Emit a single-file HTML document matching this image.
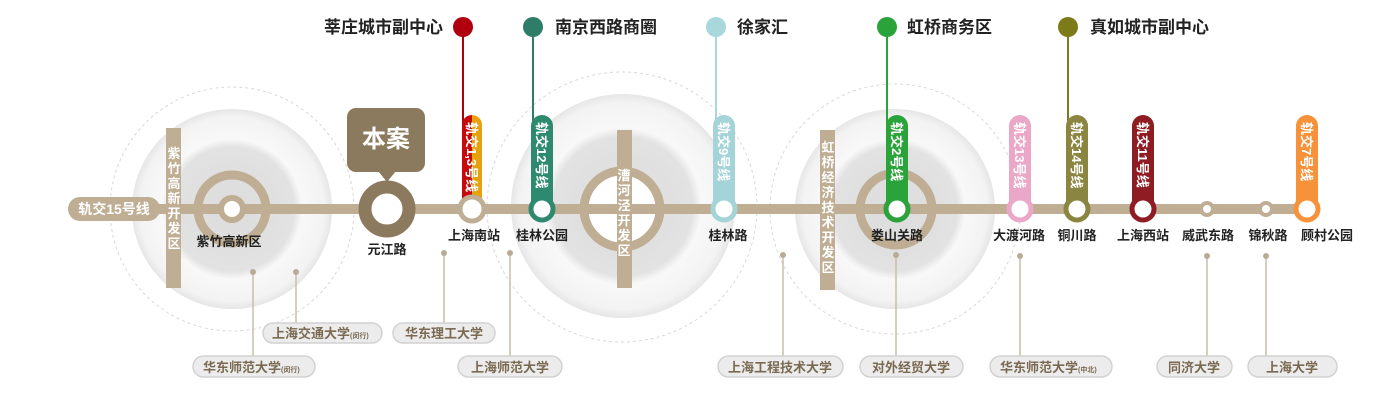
<!DOCTYPE html>
<html><head><meta charset="utf-8"><style>
html,body{margin:0;padding:0;background:#fff;width:1400px;height:418px;overflow:hidden}
text{font-family:"Liberation Sans","Noto Sans CJK SC",sans-serif;font-weight:bold}
</style></head><body>
<svg width="1400" height="418" viewBox="0 0 1400 418" xmlns="http://www.w3.org/2000/svg">
<defs>
<radialGradient id="g1" cx="50%" cy="50%" r="50%">
<stop offset="0" stop-color="#dcdcdc"/><stop offset="0.62" stop-color="#e2e2e2"/><stop offset="0.7" stop-color="#f8f8f8"/><stop offset="0.92" stop-color="#f3f3f3"/><stop offset="1" stop-color="#e6e6e6"/>
</radialGradient>
</defs>
<g fill="none" stroke="#d8d8d8" stroke-width="1" stroke-dasharray="3,3">
<circle cx="232" cy="209" r="122"/><circle cx="622" cy="207" r="135"/><circle cx="895" cy="209" r="125"/>
</g>
<circle cx="232" cy="209" r="100" fill="url(#g1)"/>
<circle cx="623" cy="206" r="112" fill="url(#g1)"/>
<circle cx="895" cy="209" r="100" fill="url(#g1)"/>
<circle cx="622" cy="209" r="38" fill="#fff"/>
<rect x="150" y="204" width="1157" height="10" fill="#bfae93"/>
<rect x="68" y="197" width="92" height="24" rx="12" fill="#bfae93"/>
<text x="114" y="214" font-size="14" fill="#fff" text-anchor="middle">轨交15号线</text>
<rect x="166" y="128" width="15" height="160" fill="#bfae93"/>
<rect x="617" y="130" width="15" height="158" fill="#bfae93"/>
<rect x="820" y="130" width="15" height="160" fill="#bfae93"/>
<g fill="none" stroke="#bfae93" stroke-width="9">
<circle cx="232" cy="209" r="34"/><circle cx="622" cy="209" r="38"/><circle cx="896" cy="209" r="36"/>
</g>
<g font-size="13" fill="#fff" text-anchor="middle">
<text x="174" y="158">紫</text><text x="174" y="173">竹</text><text x="174" y="188">高</text><text x="174" y="203">新</text><text x="174" y="218">开</text><text x="174" y="233">发</text><text x="174" y="248">区</text>
<text x="624" y="180">漕</text><text x="624" y="195">河</text><text x="624" y="210">泾</text><text x="624" y="225">开</text><text x="624" y="240">发</text><text x="624" y="255">区</text>
<text x="828" y="152">虹</text><text x="828" y="167">桥</text><text x="828" y="182">经</text><text x="828" y="197">济</text><text x="828" y="212">技</text><text x="828" y="227">术</text><text x="828" y="242">开</text><text x="828" y="257">发</text><text x="828" y="272">区</text>
</g>
<circle cx="232" cy="209" r="11" fill="#fff" stroke="#bfae93" stroke-width="6"/>
<rect x="347" y="108" width="78" height="64" rx="9" fill="#8c7a5e"/>
<polygon points="378,171 396,171 387,182" fill="#8c7a5e"/>
<text x="386" y="147" font-size="24" fill="#fff" text-anchor="middle">本案</text>
<circle cx="387" cy="209" r="22" fill="#fff" stroke="#8c7a5e" stroke-width="13"/>
<g font-size="17" fill="#222">
<text x="443" y="33" text-anchor="end">莘庄城市副中心</text>
<text x="555" y="33">南京西路商圈</text>
<text x="737" y="33">徐家汇</text>
<text x="907" y="33">虹桥商务区</text>
<text x="1090" y="33">真如城市副中心</text>
</g>
<g stroke-width="2">
<line x1="463" y1="27" x2="463" y2="130" stroke="#b00010"/>
<line x1="533" y1="27" x2="533" y2="130" stroke="#2e7d68"/>
<line x1="716" y1="27" x2="716" y2="130" stroke="#a8d8dc"/>
<line x1="887" y1="27" x2="887" y2="130" stroke="#2aa33a"/>
<line x1="1068" y1="27" x2="1068" y2="130" stroke="#7d7a1a"/>
</g>
<circle cx="463" cy="27" r="10" fill="#b00010"/>
<circle cx="533" cy="27" r="10" fill="#2e7d68"/>
<circle cx="716" cy="27" r="10" fill="#a8d8dc"/>
<circle cx="887" cy="27" r="10" fill="#2aa33a"/>
<circle cx="1068" cy="27" r="10" fill="#7d7a1a"/>
<path d="M462,125 a10,10 0 0 1 10,-10 v94 h-10z" fill="#c40a0a"/>
<path d="M472,115 a10,10 0 0 1 10,10 v84 h-10z" fill="#e5a20c"/>
<circle cx="472" cy="209" r="12" fill="#fff" stroke="#bfae93" stroke-width="5"/>
<g>
<rect x="531" y="115" width="22" height="105" rx="11" fill="#2e8a6e"/>
<rect x="713" y="115" width="22" height="105" rx="11" fill="#a4d4d8"/>
<rect x="886" y="115" width="22" height="105" rx="11" fill="#2aa33a"/>
<rect x="1009" y="115" width="22" height="105" rx="11" fill="#eaa7c8"/>
<rect x="1066" y="115" width="22" height="105" rx="11" fill="#8a8540"/>
<rect x="1132" y="115" width="22" height="105" rx="11" fill="#8f1c22"/>
<rect x="1296" y="115" width="22" height="105" rx="11" fill="#f7923a"/>
</g>
<circle cx="542" cy="209" r="11" fill="#fff" stroke="#2e8a6e" stroke-width="5"/>
<circle cx="724" cy="209" r="11" fill="#fff" stroke="#a4d4d8" stroke-width="5"/>
<circle cx="897" cy="209" r="11" fill="#fff" stroke="#2aa33a" stroke-width="5"/>
<circle cx="1020" cy="209" r="11" fill="#fff" stroke="#eaa7c8" stroke-width="5"/>
<circle cx="1077" cy="209" r="11" fill="#fff" stroke="#8a8540" stroke-width="5"/>
<circle cx="1143" cy="209" r="11" fill="#fff" stroke="#8f1c22" stroke-width="5"/>
<circle cx="1307" cy="209" r="11" fill="#fff" stroke="#f7923a" stroke-width="5"/>
<circle cx="1207" cy="209" r="6" fill="#fff" stroke="#bfae93" stroke-width="4"/>
<circle cx="1266" cy="209" r="6" fill="#fff" stroke="#bfae93" stroke-width="4"/>
<g font-size="13" fill="#fff">
<text transform="translate(467,122) rotate(90)">轨交1,3号线</text>
<text transform="translate(537,122) rotate(90)">轨交12号线</text>
<text transform="translate(719,122) rotate(90)">轨交9号线</text>
<text transform="translate(892,122) rotate(90)">轨交2号线</text>
<text transform="translate(1015,122) rotate(90)">轨交13号线</text>
<text transform="translate(1072,122) rotate(90)">轨交14号线</text>
<text transform="translate(1138,122) rotate(90)">轨交11号线</text>
<text transform="translate(1302,122) rotate(90)">轨交7号线</text>
</g>
<g font-size="13" fill="#222" text-anchor="middle">
<text x="229" y="246">紫竹高新区</text>
<text x="387" y="254">元江路</text>
<text x="474" y="240">上海南站</text>
<text x="542" y="240">桂林公园</text>
<text x="728" y="240">桂林路</text>
<text x="897" y="240">娄山关路</text>
<text x="1019" y="240">大渡河路</text>
<text x="1077" y="240">铜川路</text>
<text x="1143" y="240">上海西站</text>
<text x="1208" y="240">威武东路</text>
<text x="1268" y="240">锦秋路</text>
<text x="1327" y="240">顾村公园</text>
</g>
<g stroke="#c9bfa8" stroke-width="1.5">
<line x1="253" y1="272" x2="253" y2="358"/><line x1="296" y1="272" x2="296" y2="325"/>
<line x1="444" y1="253" x2="444" y2="325"/><line x1="510" y1="253" x2="510" y2="358"/>
<line x1="783" y1="255" x2="783" y2="358"/><line x1="896" y1="255" x2="896" y2="358"/>
<line x1="1020" y1="256" x2="1020" y2="358"/><line x1="1207" y1="256" x2="1207" y2="358"/>
<line x1="1266" y1="256" x2="1266" y2="358"/>
</g>
<g fill="#b8ad94">
<circle cx="253" cy="272" r="3"/><circle cx="296" cy="272" r="3"/><circle cx="444" cy="253" r="3"/><circle cx="510" cy="253" r="3"/><circle cx="783" cy="255" r="3"/><circle cx="896" cy="255" r="3"/><circle cx="1020" cy="256" r="3"/><circle cx="1207" cy="256" r="3"/><circle cx="1266" cy="256" r="3"/>
</g>
<g fill="#ececec" stroke="#d2d2d2" stroke-width="1.5">
<rect x="263" y="323" width="119" height="20" rx="10"/>
<rect x="193" y="356" width="122" height="21" rx="10.5"/>
<rect x="393" y="323" width="102" height="20" rx="10"/>
<rect x="458" y="356" width="104" height="21" rx="10.5"/>
<rect x="718" y="356" width="125" height="21" rx="10.5"/>
<rect x="860" y="356" width="103" height="21" rx="10.5"/>
<rect x="990" y="356" width="122" height="21" rx="10.5"/>
<rect x="1157" y="356" width="75" height="21" rx="10.5"/>
<rect x="1248" y="356" width="89" height="21" rx="10.5"/>
</g>
<g font-size="13" fill="#7a6a52">
<text x="272" y="338">上海交通大学<tspan font-size="7">(闵行)</tspan></text>
<text x="203" y="372">华东师范大学<tspan font-size="7">(闵行)</tspan></text>
<text x="444" y="338" text-anchor="middle">华东理工大学</text>
<text x="510" y="372" text-anchor="middle">上海师范大学</text>
<text x="780" y="372" text-anchor="middle">上海工程技术大学</text>
<text x="911" y="372" text-anchor="middle">对外经贸大学</text>
<text x="1000" y="372">华东师范大学<tspan font-size="7">(中北)</tspan></text>
<text x="1194" y="372" text-anchor="middle">同济大学</text>
<text x="1292" y="372" text-anchor="middle">上海大学</text>
</g>
</svg>
</body></html>
